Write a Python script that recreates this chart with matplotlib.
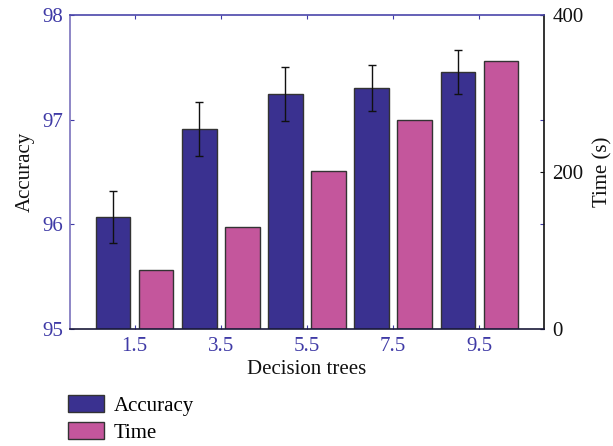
import matplotlib
matplotlib.use("Agg")
import matplotlib.pyplot as plt
from matplotlib.patches import Patch
import numpy as np

plt.rcParams.update({
    "font.family": ["Liberation Serif", "DejaVu Serif"],
    "font.size": 15,
})

# data
acc_pos = [1, 3, 5, 7, 9]
time_pos = [2, 4, 6, 8, 10]
tick_pos = [1.5, 3.5, 5.5, 7.5, 9.5]
tick_labels = ["1.5", "3.5", "5.5", "7.5", "9.5"]
accuracy = [96.07, 96.91, 97.245, 97.305, 97.46]
acc_err = [0.25, 0.26, 0.26, 0.22, 0.21]
time_s = [75, 130, 201, 266, 341]

ACC_C, TIME_C = "#3a3190", "#c4569c"
AX_BLUE = "#3f3aa6"
EDGE = "#333333"

fig = plt.figure(figsize=(6.13, 4.46), dpi=100)
ax = fig.add_axes([70 / 613, 1 - 329 / 446, 474 / 613, 314 / 446])
ax2 = ax.twinx()

ax.bar(acc_pos, np.array(accuracy) - 95, 0.8, bottom=95, color=ACC_C,
       edgecolor=EDGE, linewidth=1.0, zorder=2)
ax.errorbar(acc_pos, accuracy, yerr=acc_err, fmt="none", ecolor="#111111",
            elinewidth=1.0, capsize=2.8, capthick=1.0, zorder=3)
ax.set_xlim(0, 11)
ax.set_ylim(95, 98)
ax.set_yticks([95, 96, 97, 98])
ax.set_xticks(tick_pos)
ax.set_xticklabels(tick_labels)
ax.tick_params(axis="both", direction="in", length=3, colors=AX_BLUE,
               labelcolor=AX_BLUE, top=True, labelsize=15)
ax.tick_params(axis="y", right=True, pad=5)
ax.tick_params(axis="x", pad=6)
ax.set_ylabel("Accuracy", color="#111111", labelpad=5)
ax.set_xlabel("Decision trees", color="#111111", labelpad=3)

ax2.bar(time_pos, time_s, 0.8, color=TIME_C, edgecolor=EDGE, linewidth=1.0, zorder=2)
ax2.set_ylim(0, 400)
ax2.set_yticks([0, 200, 400])
ax2.tick_params(axis="y", direction="in", length=3, colors="#111111",
                labelsize=15, pad=6)
ax2.set_ylabel("Time (s)", color="#111111", labelpad=7)

ax2.spines["left"].set_color("#7a72bc")
ax2.spines["top"].set_color("#4a46aa")
ax2.spines["bottom"].set_color("#1a1a3a")
ax2.spines["right"].set_color("#111111")
for s in ax.spines.values():
    s.set_visible(False)
for s in ax2.spines.values():
    s.set_linewidth(1.2)

handles = [Patch(facecolor=ACC_C, edgecolor=EDGE, label="Accuracy"),
           Patch(facecolor=TIME_C, edgecolor=EDGE, label="Time")]
fig.legend(handles=handles, loc="upper left", bbox_to_anchor=(68 / 613, 1 - 395 / 446),
           frameon=False, borderpad=0, borderaxespad=0, handlelength=1.75,
           handleheight=0.87, labelspacing=0.3, handletextpad=0.45, fontsize=15)

fig.savefig("out.png", dpi=100)
